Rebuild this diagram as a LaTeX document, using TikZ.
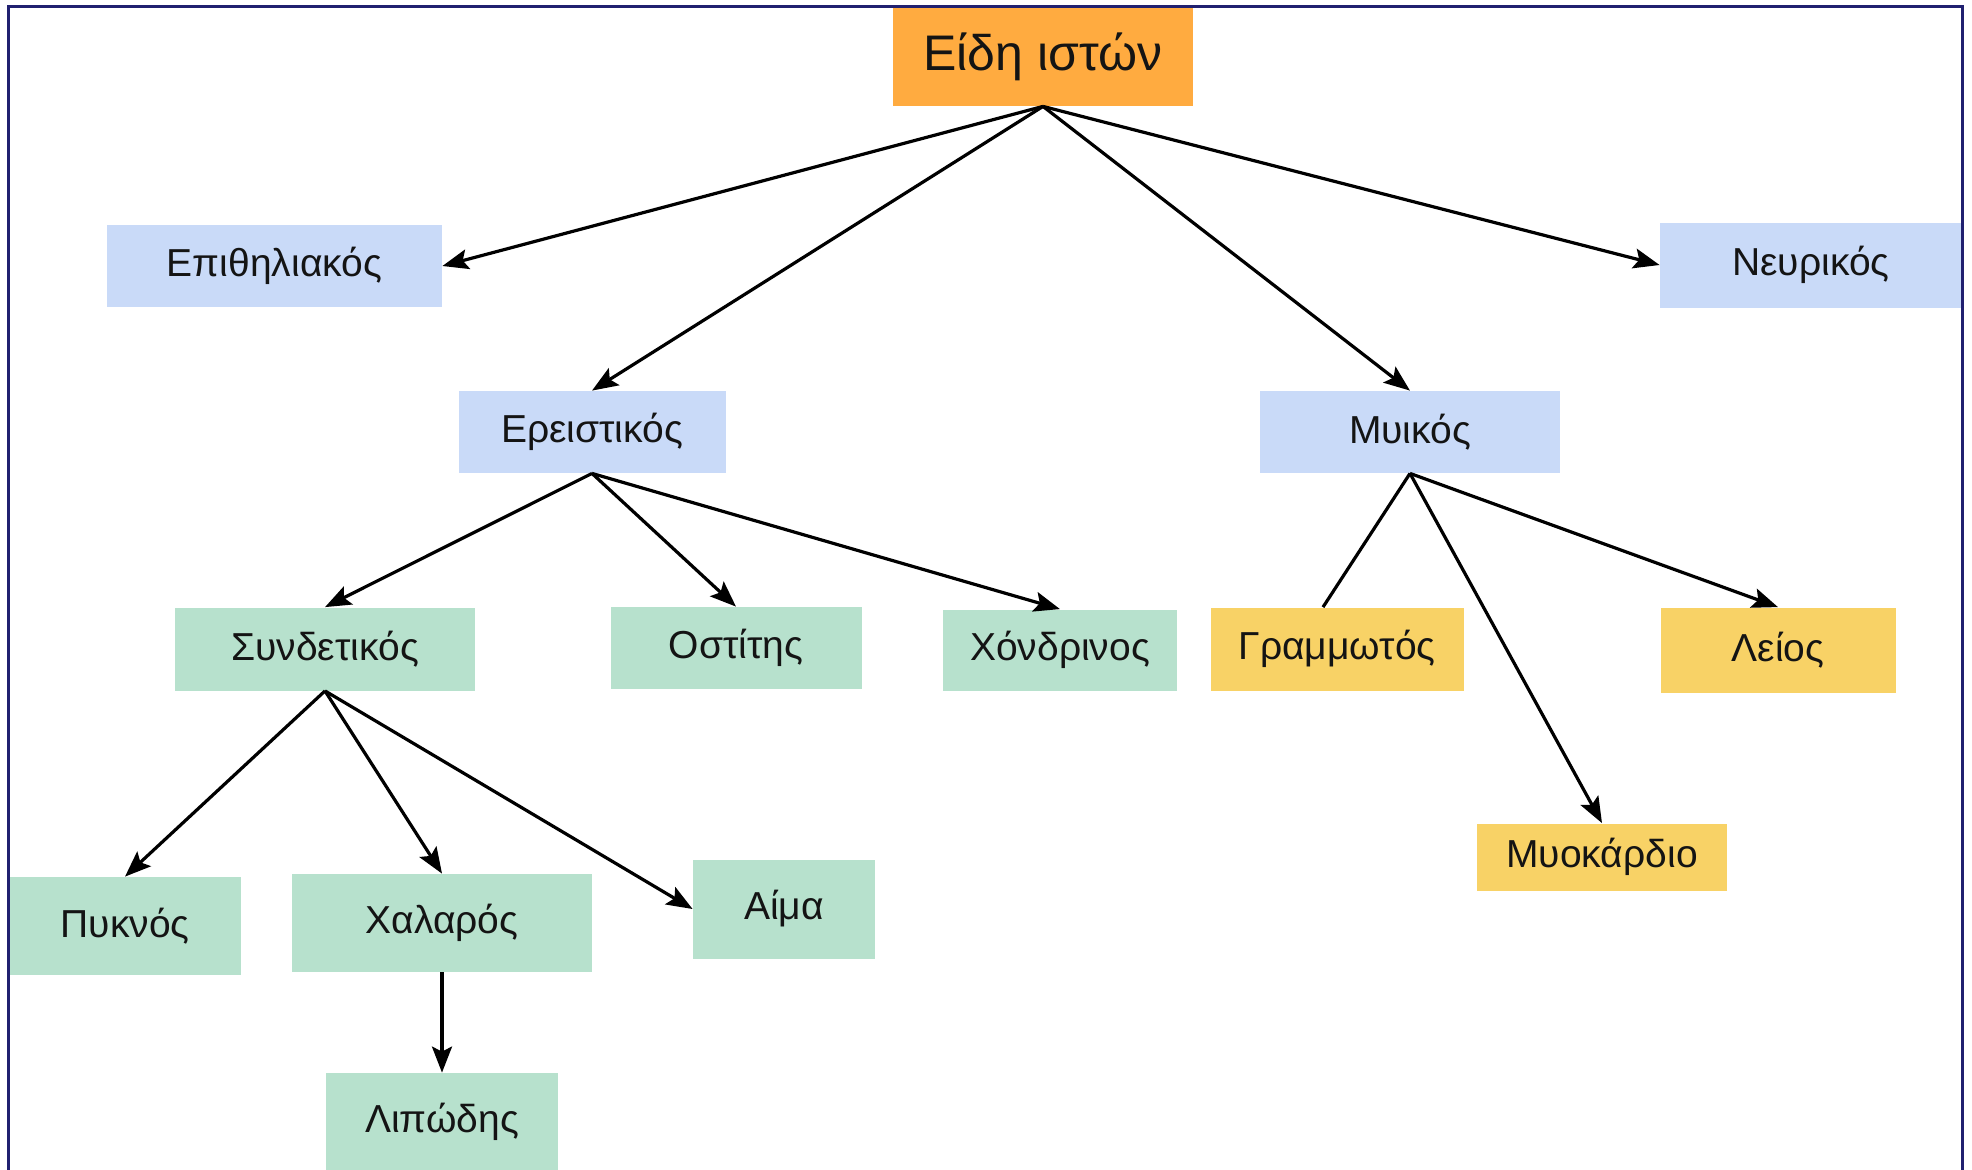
\documentclass[tikz,border=0pt]{standalone}
\usepackage{fontspec}
\setmainfont{Liberation Sans}
\usepackage{xcolor}
\usetikzlibrary{arrows.meta}
\definecolor{rootorange}{RGB}{255,171,64}
\definecolor{tissueblue}{RGB}{201,218,248}
\definecolor{conngreen}{RGB}{183,225,205}
\definecolor{musclegold}{RGB}{248,210,102}
\definecolor{framenavy}{RGB}{32,32,112}

\begin{document}
\begin{tikzpicture}[
    x=0.5pt, y=-0.5pt,
    block/.style={inner sep=0pt, align=center, text=black!92, font=\fontsize{19.5}{22}\selectfont},
    rootbox/.style={block, fill=rootorange, font=\fontsize{25}{28}\selectfont},
    tissue/.style={block, fill=tissueblue},
    conn/.style={block, fill=conngreen},
    muscle/.style={block, fill=musclegold},
    arrow/.style={-{Stealth[length=13pt, width=10pt, inset=2.5pt]}, line width=1.6pt},
    link/.style={line width=1.6pt}
]
    \useasboundingbox (0,0) rectangle (1972,1169);
    \fill[white] (0,0) rectangle (1972,1169);

    \node[rootbox, minimum width=150pt, minimum height=49pt] (root) at (1043,57) {Είδη ιστών};

    \node[tissue, minimum width=167.5pt, minimum height=41pt] (epith) at (274.5,266) {Επιθηλιακός};
    \node[tissue, minimum width=151pt, minimum height=42.5pt] (neur) at (1811,265) {Νευρικός};
    \node[tissue, minimum width=133.5pt, minimum height=41pt] (ereis) at (592,432) {Ερειστικός};
    \node[tissue, minimum width=150pt, minimum height=41pt] (myik) at (1410,432) {Μυικός};

    \node[conn, minimum width=150pt, minimum height=41.5pt] (syndet) at (325,649) {Συνδετικός};
    \node[conn, minimum width=125.5pt, minimum height=41pt] (ostit) at (736,648) {Οστίτης};
    \node[conn, minimum width=117pt, minimum height=40.5pt] (chondr) at (1060,650) {Χόνδρινος};

    \node[muscle, minimum width=126.5pt, minimum height=41.5pt] (gramm) at (1337,649) {Γραμμωτός};
    \node[muscle, minimum width=117.5pt, minimum height=42.5pt] (leios) at (1778,650) {Λείος};
    \node[muscle, minimum width=125pt, minimum height=33.5pt] (myok) at (1602,857) {Μυοκάρδιο};

    \node[conn, minimum width=115.5pt, minimum height=49pt] (pykn) at (125,926) {Πυκνός};
    \node[conn, minimum width=150pt, minimum height=49pt] (chalar) at (442,923) {Χαλαρός};
    \node[conn, minimum width=91pt, minimum height=49.5pt] (aima) at (784,909) {Αίμα};
    \node[conn, minimum width=116pt, minimum height=49pt] (lipod) at (442,1122) {Λιπώδης};

    \draw[arrow] (root.south) -- (epith.east);
    \draw[arrow] (root.south) -- (ereis.north);
    \draw[arrow] (root.south) -- (myik.north);
    \draw[arrow] (root.south) -- (neur.west);

    \draw[arrow] (ereis.south) -- (syndet.north);
    \draw[arrow] (ereis.south) -- (ostit.north);
    \draw[arrow] (ereis.south) -- (chondr.north);

    \draw[link] (myik.south) -- ([xshift=-7pt]gramm.north);
    \draw[arrow] (myik.south) -- (myok.north);
    \draw[arrow] (myik.south) -- (leios.north);

    \draw[arrow] (syndet.south) -- (pykn.north);
    \draw[arrow] (syndet.south) -- (chalar.north);
    \draw[arrow] (syndet.south) -- (aima.west);
    \draw[arrow] (chalar.south) -- (lipod.north);

    % frame, open at the bottom
    \draw[framenavy, line width=1.5pt] (8,1172) -- (8,6) -- (1962,6) -- (1962,1172);
\end{tikzpicture}
\end{document}
